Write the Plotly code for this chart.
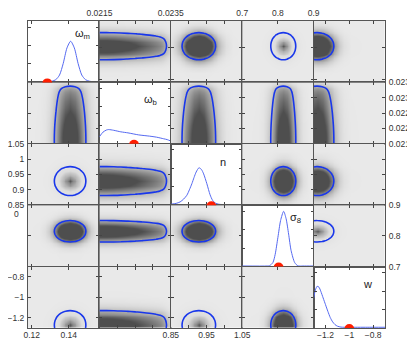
import plotly.graph_objects as go
from plotly.subplots import make_subplots

# parameter names (diagonal labels)
names = ['ω<sub>m</sub>', 'ω<sub>b</sub>', 'n', 'σ<sub>8</sub>', 'w']

# axis ranges per parameter
ranges = [[0.118, 0.1565], [0.0215, 0.0235], [0.85, 1.05], [0.7, 0.9], [-1.3, -0.7]]

# tick values per parameter
tick_om = [0.12, 0.14]
tick_ob = [0.0215, 0.022, 0.0225, 0.023, 0.0235]
tick_n = [0.85, 0.9, 0.95, 1.0, 1.05]
tick_s8 = [0.7, 0.8, 0.9]
tick_w = [-1.2, -1.0, -0.8]

# tick labels
lab_om = ['0.12', '0.14']
lab_ob_top = ['0.0215', '', '', '', '0.0235']
lab_ob_right = ['0.0215', '0.022', '0.0225', '0.023', '0.0235']
lab_n_bottom = ['0.85', '', '0.95', '', '1.05']
lab_n_left = ['0.85', '0.9', '0.95', '1', '1.05']
lab_s8 = ['0.7', '0.8', '0.9']
lab_w = ['−1.2', '−1', '−0.8']

# fiducial (true) values - red dots
truth = [0.1284, 0.02247, 0.9636, 0.802, -1.0]

# 1D marginal curves (diagonal), height as fraction of panel
curve_om_x = [0.118, 0.126, 0.129, 0.131, 0.133, 0.135, 0.137, 0.139, 0.141, 0.143, 0.145, 0.147, 0.149, 0.151, 0.153, 0.1565]
curve_om_y = [0.012, 0.012, 0.014, 0.02, 0.045, 0.12, 0.31, 0.56, 0.67, 0.56, 0.31, 0.12, 0.045, 0.02, 0.012, 0.012]
curve_ob_x = [0.0215, 0.0216, 0.0217, 0.02176, 0.0219, 0.0221, 0.0223, 0.0226, 0.0229, 0.0231, 0.0233, 0.0234, 0.0235]
curve_ob_y = [0.115, 0.19, 0.225, 0.232, 0.22, 0.195, 0.178, 0.145, 0.125, 0.108, 0.082, 0.068, 0.045]
curve_n_x = [0.85, 0.865, 0.876, 0.886, 0.895, 0.902, 0.909, 0.915, 0.921, 0.929, 0.936, 0.942, 0.951, 0.960, 0.967, 0.974, 0.985, 0.995, 1.05]
curve_n_y = [0.016, 0.03, 0.053, 0.1, 0.162, 0.25, 0.35, 0.45, 0.54, 0.61, 0.58, 0.51, 0.35, 0.17, 0.08, 0.037, 0.015, 0.011, 0.01]
curve_s8_x = [0.7, 0.77, 0.7767, 0.786, 0.7924, 0.8, 0.8075, 0.816, 0.823, 0.83, 0.837, 0.847, 0.856, 0.87, 0.9]
curve_s8_y = [0.01, 0.01, 0.015, 0.066, 0.2, 0.475, 0.75, 0.9, 0.78, 0.53, 0.26, 0.066, 0.012, 0.01, 0.01]
curve_w_x = [-1.3, -1.285, -1.27, -1.255, -1.24, -1.22, -1.2, -1.18, -1.16, -1.14, -1.12, -1.1, -1.07, -1.04, -1.0, -0.85, -0.7]
curve_w_y = [0.48, 0.62, 0.68, 0.665, 0.6, 0.49, 0.38, 0.27, 0.17, 0.1, 0.055, 0.03, 0.015, 0.012, 0.012, 0.012, 0.012]

# 2D profiles per parameter (relative density used in the off-diagonal panels)
prof_om_x = [0.118, 0.1237, 0.1271, 0.1292, 0.1309, 0.1322, 0.1331, 0.1343, 0.1360, 0.1382, 0.1407,
             0.1433, 0.1454, 0.1471, 0.1484, 0.1492, 0.1505, 0.1522, 0.1543, 0.1565]
prof_om_v = [0, 0.004, 0.03, 0.08, 0.16, 0.25, 0.33, 0.46, 0.66, 0.88, 1.0,
             0.88, 0.66, 0.46, 0.33, 0.25, 0.16, 0.08, 0.03, 0.008]
prof_ob_x = [0.0215, 0.0217, 0.0219, 0.0221, 0.0223, 0.0225, 0.0227, 0.0229, 0.0231, 0.0232, 0.0233, 0.02338, 0.02345, 0.0235]
prof_ob_v = [1.0, 1.0, 0.97, 0.92, 0.85, 0.78, 0.7, 0.62, 0.53, 0.47, 0.38, 0.25, 0.15, 0.07]
prof_n_x = [0.85, 0.865, 0.8745, 0.8815, 0.8862, 0.8932, 0.9026, 0.9144, 0.9285, 0.9426, 0.9544,
            0.9638, 0.9708, 0.9755, 0.9825, 0.992, 1.0037, 1.0225, 1.05]
prof_n_v = [0.02, 0.08, 0.16, 0.25, 0.33, 0.46, 0.66, 0.88, 1.0, 0.88, 0.66,
            0.46, 0.33, 0.25, 0.16, 0.08, 0.03, 0.004, 0]
prof_s8_x = [0.7, 0.745, 0.759, 0.7677, 0.7747, 0.78, 0.7835, 0.7887, 0.7957, 0.8045, 0.815,
             0.8255, 0.8343, 0.8413, 0.8465, 0.85, 0.8553, 0.8623, 0.871, 0.885, 0.9]
prof_s8_v = [0, 0.004, 0.03, 0.08, 0.16, 0.25, 0.33, 0.46, 0.66, 0.88, 1.0,
             0.88, 0.66, 0.46, 0.33, 0.25, 0.16, 0.08, 0.03, 0.004, 0]
prof_w_x = [-1.3, -1.27, -1.228, -1.193, -1.165, -1.144, -1.13, -1.109, -1.081, -1.046, -0.99, -0.85, -0.7]
prof_w_v = [0.94, 1.0, 0.88, 0.66, 0.46, 0.33, 0.25, 0.16, 0.08, 0.03, 0.004, 0, 0]

# how dark each off-diagonal panel is drawn (density at which grey saturates)
zmax = [[0, 0.75, 0.45, 1.0, 0.45],
        [0.75, 0, 0.75, 0.75, 0.7],
        [1.0, 0.75, 0, 0.45, 0.5],
        [0.45, 0.7, 0.45, 0, 1.0],
        [1.0, 0.75, 1.0, 0.45, 0]]
soft = [[0, 0, 0, 1, 0],
        [0, 0, 0, 0, 0],
        [1, 0, 0, 0, 0],
        [0, 0, 0, 0, 1],
        [1, 0, 1, 0, 0]]
level = 0.25

curves_x = [curve_om_x, curve_ob_x, curve_n_x, curve_s8_x, curve_w_x]
curves_y = [curve_om_y, curve_ob_y, curve_n_y, curve_s8_y, curve_w_y]
prof_x = [prof_om_x, prof_ob_x, prof_n_x, prof_s8_x, prof_w_x]
prof_v = [prof_om_v, prof_ob_v, prof_n_v, prof_s8_v, prof_w_v]
ticks = [tick_om, tick_ob, tick_n, tick_s8, tick_w]

bg = '#e9e9e9'
solid_scale = [[0, bg], [1, '#4e4e4e']]
soft_scale = [[0, bg], [0.5, '#dcdcdc'], [0.8, '#b2b2b2'], [0.93, '#888888'], [1, '#555555']]
blue = 'rgb(25,55,235)'
axis_font = dict(family='Liberation Sans, Arial, sans-serif', size=8.5, color='#333333')

fig = make_subplots(rows=5, cols=5, horizontal_spacing=0, vertical_spacing=0)

for r in range(5):
    for c in range(5):
        if r == c:
            fig.add_trace(go.Scatter(x=curves_x[r], y=curves_y[r], mode='lines',
                                     line=dict(color='rgb(85,105,240)', width=1, shape='spline', smoothing=0.7),
                                     hoverinfo='skip', showlegend=False), row=r + 1, col=c + 1)
        else:
            z = [[a * b for a in prof_v[c]] for b in prof_v[r]]
            fig.add_trace(go.Heatmap(x=prof_x[c], y=prof_x[r], z=z, zmin=0, zmax=zmax[r][c],
                                     colorscale=soft_scale if soft[r][c] else solid_scale,
                                     zsmooth='best', showscale=False, hoverinfo='skip'),
                          row=r + 1, col=c + 1)
            fig.add_trace(go.Contour(x=prof_x[c], y=prof_x[r], z=z, showscale=False,
                                     contours=dict(start=level, end=level, size=1, coloring='none'),
                                     line=dict(color=blue, width=1.6, smoothing=1.0),
                                     hoverinfo='skip'),
                          row=r + 1, col=c + 1)

for r in range(5):
    for c in range(5):
        lo, hi = ranges[c]
        pad = (hi - lo) * 1e-4
        xa = dict(range=[lo - pad, hi + pad], tickmode='array', tickvals=ticks[c],
                  ticks='inside', ticklen=3, tickcolor='#444444', showline=True, mirror='allticks',
                  linecolor='#555555', linewidth=1, showgrid=False, zeroline=False, automargin=False,
                  showticklabels=False, tickfont=axis_font, ticklabeloverflow='allow')
        if r == 4 and c in (0, 2, 4):
            xa.update(showticklabels=True, ticklabelstandoff=-1,
                      ticktext=[lab_om, None, lab_n_bottom, None, lab_w][c])
        if r == 0 and c in (1, 3):
            xa.update(showticklabels=True, side='top', ticklabelstandoff=1,
                      ticktext=[None, lab_ob_top, None, lab_s8, None][c])
        fig.update_xaxes(row=r + 1, col=c + 1, **xa)

        if r == c:
            ya = dict(range=[0, 1], tickmode='array', tickvals=[0.3, 0.6, 0.9])
        else:
            lo, hi = ranges[r]
            pad = (hi - lo) * 1e-4
            ya = dict(range=[lo - pad, hi + pad], tickmode='array', tickvals=ticks[r])
        ya.update(ticks='inside', ticklen=3, tickcolor='#444444', showline=True, mirror='allticks',
                  linecolor='#555555', linewidth=1, showgrid=False, zeroline=False, automargin=False,
                  showticklabels=False, tickfont=axis_font, ticklabeloverflow='allow', ticklabelstandoff=1)
        if c == 0 and r in (2, 4):
            ya.update(showticklabels=True, ticktext=[None, None, lab_n_left, None, lab_w][r])
        if c == 4 and r in (1, 3):
            ya.update(showticklabels=True, side='right', ticktext=[None, lab_ob_right, None, lab_s8, None][r])
        fig.update_yaxes(row=r + 1, col=c + 1, **ya)

# parameter labels and red fiducial dots on the diagonal panels
label_pos = [(0.90, 0.93), (0.84, 0.86), (0.795, 0.84), (0.855, 0.93), (0.85, 0.85)]
for i in range(5):
    n = i * 5 + i + 1
    ref = '' if n == 1 else str(n)
    fig.add_annotation(text=names[i], x=label_pos[i][0], y=label_pos[i][1],
                       xref='x' + ref + ' domain', yref='y' + ref + ' domain', showarrow=False,
                       font=dict(family='Liberation Sans, Arial, sans-serif', size=11, color='#222222'))
    fig.add_shape(type='circle', xref='x' + ref, yref='y' + ref,
                  xsizemode='pixel', ysizemode='pixel', xanchor=truth[i], yanchor=0,
                  x0=-5, x1=5, y0=-6, y1=4, fillcolor='rgb(255,30,0)', line_width=0, layer='above')

# stray "0" label at the left of the sigma_8 row
fig.add_annotation(text='0', x=-0.02, y=0.372, xref='paper', yref='paper', xanchor='right',
                   showarrow=False, font=axis_font)

# the page body adds an 8px offset on every side, so the figure is 16px smaller
fig.update_layout(width=407, height=331, margin=dict(l=20, r=30, t=13, b=11),
                  paper_bgcolor='white', plot_bgcolor='white', showlegend=False)

fig.write_html("out.html")
